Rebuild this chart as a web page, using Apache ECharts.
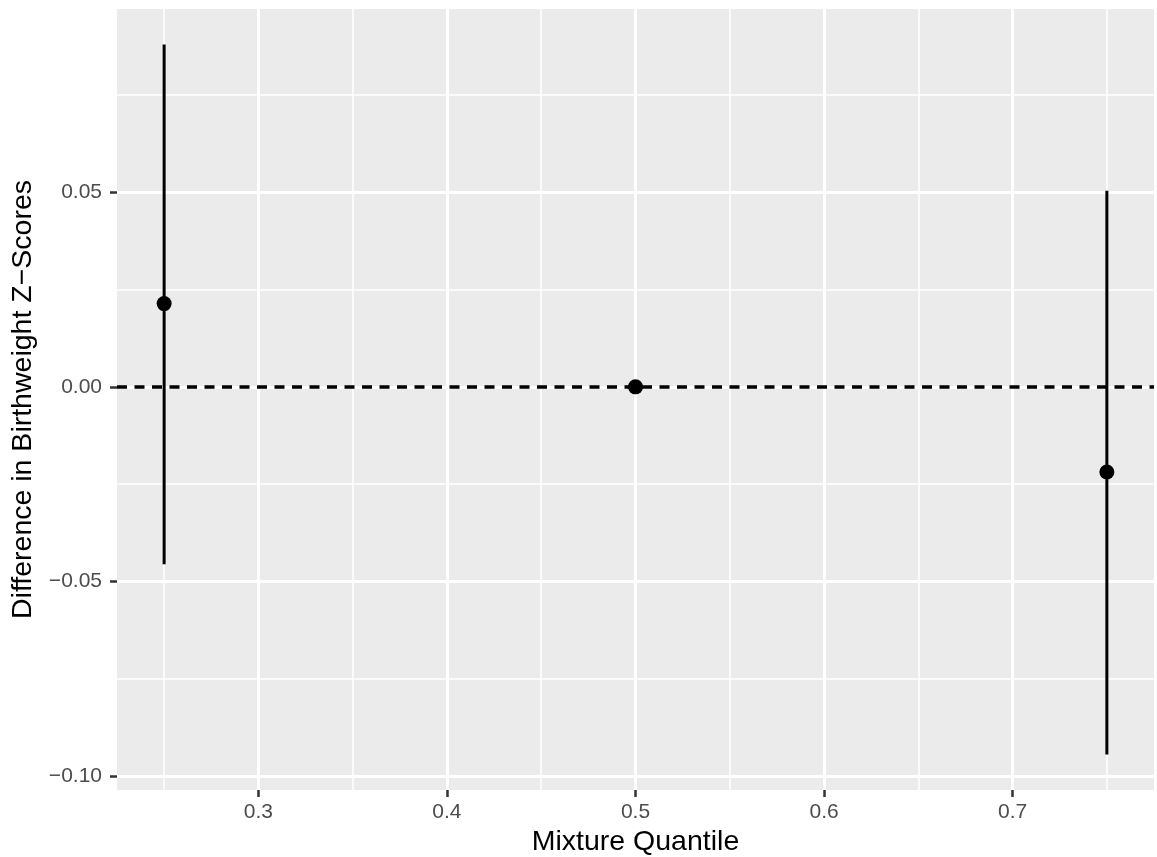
<!DOCTYPE html>
<html>
<head>
<meta charset="utf-8">
<title>Mixture Quantile</title>
<script src="https://cdn.jsdelivr.net/npm/echarts@6/dist/echarts.min.js"></script>
<style>
  html, body { margin: 0; padding: 0; background: #fff; }
  #main { width: 1157px; height: 857px; }
</style>
</head>
<body>
<div id="main"></div>
<script>
// quantile estimates with their confidence bounds
var quantiles = [0.25, 0.5, 0.75];
var estimates = [0.0214, 0, -0.0219];
var lowerCI = [-0.0456, 0, -0.0945];
var upperCI = [0.0880, 0, 0.0504];

// axis ticks
var xMajor = [0.3, 0.4, 0.5, 0.6, 0.7];
var xMinor = [0.25, 0.35, 0.45, 0.55, 0.65, 0.75];
var yMajor = [-0.1, -0.05, 0, 0.05];
var yMinor = [-0.075, -0.025, 0.025, 0.075];

// ggplot style 5% expansion of the data range
var xLo = Math.min.apply(null, quantiles), xHi = Math.max.apply(null, quantiles);
var yLo = Math.min.apply(null, lowerCI), yHi = Math.max.apply(null, upperCI);
var xPad = (xHi - xLo) * 0.05, yPad = (yHi - yLo) * 0.05;

var FONT = "'Liberation Sans', Arial, sans-serif";

var chart = echarts.init(document.getElementById('main'), null, { renderer: 'canvas' });

function fmtY(v) {
    var s = Math.abs(v).toFixed(2);
    return v < -1e-9 ? '\u2212' + s : s;
}

var option = {
    backgroundColor: '#ffffff',
    animation: false,
    grid: {
        left: 117, right: 3, top: 9, bottom: 67,
        containLabel: false, outerBoundsMode: 'none',
        show: true, backgroundColor: '#EBEBEB', borderWidth: 0
    },
    xAxis: [
        {
            type: 'value', min: xLo - xPad, max: xHi + xPad, position: 'bottom',
            axisLine: { show: false, onZero: false },
            axisTick: { show: true, length: 7, customValues: xMajor, lineStyle: { color: '#333333', width: 2.5 } },
            axisLabel: {
                customValues: xMajor, margin: 12, color: '#4D4D4D', fontSize: 21, fontFamily: FONT,
                formatter: function (v) { return v.toFixed(1); }
            },
            splitLine: { show: true, lineStyle: { color: '#ffffff', width: 3 } },
            name: 'Mixture Quantile', nameLocation: 'middle', nameGap: 33,
            nameTextStyle: { color: '#000', fontSize: 28.5, fontFamily: FONT }
        },
        {
            type: 'value', min: xLo - xPad, max: xHi + xPad, position: 'bottom',
            axisLine: { show: false, onZero: false },
            axisTick: { show: false, customValues: xMinor },
            axisLabel: { show: false, customValues: xMinor },
            splitLine: { show: true, lineStyle: { color: '#ffffff', width: 1.5 } }
        }
    ],
    yAxis: [
        {
            type: 'value', min: yLo - yPad, max: yHi + yPad, position: 'left',
            axisLine: { show: false, onZero: false },
            axisTick: { show: true, length: 7, customValues: yMajor, lineStyle: { color: '#333333', width: 2.5 } },
            axisLabel: {
                customValues: yMajor, margin: 15, color: '#4D4D4D', fontSize: 21, fontFamily: FONT,
                formatter: fmtY
            },
            splitLine: { show: true, lineStyle: { color: '#ffffff', width: 3 } },
            name: 'Difference in Birthweight Z\u2212Scores', nameLocation: 'middle', nameGap: 78,
            nameTextStyle: { color: '#000', fontSize: 28.5, fontFamily: FONT }
        },
        {
            type: 'value', min: yLo - yPad, max: yHi + yPad, position: 'left',
            axisLine: { show: false, onZero: false },
            axisTick: { show: false, customValues: yMinor },
            axisLabel: { show: false, customValues: yMinor },
            splitLine: { show: true, lineStyle: { color: '#ffffff', width: 1.5 } }
        }
    ],
    series: [
        {
            type: 'custom',
            xAxisIndex: 0, yAxisIndex: 0,
            data: quantiles.map(function (q, i) { return [q, lowerCI[i], upperCI[i]]; }),
            renderItem: function (params, api) {
                var p1 = api.coord([api.value(0), api.value(1)]);
                var p2 = api.coord([api.value(0), api.value(2)]);
                return {
                    type: 'line',
                    shape: { x1: p1[0], y1: p1[1], x2: p2[0], y2: p2[1] },
                    style: { stroke: '#000', lineWidth: 3 }
                };
            },
            z: 3
        },
        {
            type: 'scatter',
            xAxisIndex: 0, yAxisIndex: 0,
            data: quantiles.map(function (q, i) { return [q, estimates[i]]; }),
            symbol: 'circle', symbolSize: 15,
            itemStyle: { color: '#000', opacity: 1 },
            z: 4,
            markLine: {
                silent: true, symbol: 'none', label: { show: false },
                lineStyle: { color: '#000', width: 3.5, type: [10, 7.5], opacity: 1 },
                data: [{ yAxis: 0 }]
            }
        }
    ]
};

chart.setOption(option);
</script>
</body>
</html>
